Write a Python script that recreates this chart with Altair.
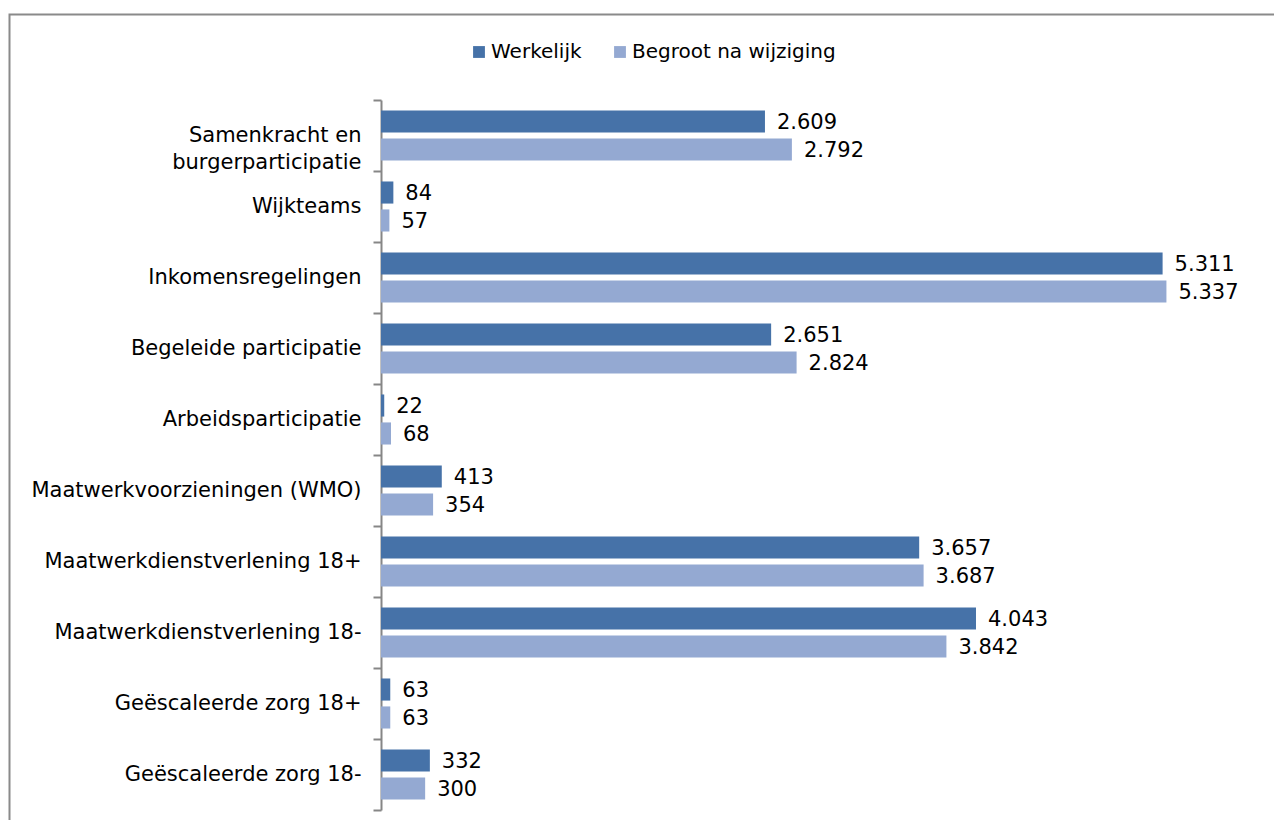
import altair as alt
import pandas as pd

categories = [
    "Samenkracht en burgerparticipatie",
    "Wijkteams",
    "Inkomensregelingen",
    "Begeleide participatie",
    "Arbeidsparticipatie",
    "Maatwerkvoorzieningen (WMO)",
    "Maatwerkdienstverlening 18+",
    "Maatwerkdienstverlening 18-",
    "Geëscaleerde zorg 18+",
    "Geëscaleerde zorg 18-",
]
werkelijk = [2609, 84, 5311, 2651, 22, 413, 3657, 4043, 63, 332]
begroot = [2792, 57, 5337, 2824, 68, 354, 3687, 3842, 63, 300]
series = ["Werkelijk", "Begroot na wijziging"]
colors = ["#4672a8", "#94a9d2"]

rows = []
for c, w, b in zip(categories, werkelijk, begroot):
    rows.append({"cat": c, "serie": series[0], "v": w})
    rows.append({"cat": c, "serie": series[1], "v": b})
df = pd.DataFrame(rows)

FONT = "DejaVu Sans"
FS = 21
W, H = 883, 710

y_enc = alt.Y(
    "cat:N",
    sort=categories,
    scale=alt.Scale(paddingInner=0, paddingOuter=0),
    axis=alt.Axis(
        title=None,
        domainColor="#868686",
        domainWidth=2,
        tickColor="#868686",
        tickWidth=2,
        tickSize=8,
        tickBand="extent",
        labelPadding=12,
        labelFont=FONT,
        labelFontSize=FS,
        labelColor="#000000",
        labelLineHeight=27,
        labelLimit=400,
        labelExpr="datum.value == 'Samenkracht en burgerparticipatie' ? ['Samenkracht en', 'burgerparticipatie'] : datum.value",
    ),
)
yoff = alt.YOffset(
    "serie:N",
    sort=series,
    scale=alt.Scale(paddingInner=0.21, paddingOuter=0.375),
)
x_enc = alt.X("v:Q", scale=alt.Scale(domain=[0, 6000]), axis=None)

bars = alt.Chart(df).mark_bar().encode(
    y=y_enc,
    yOffset=yoff,
    x=x_enc,
    color=alt.Color(
        "serie:N",
        sort=series,
        scale=alt.Scale(domain=series, range=colors),
        legend=alt.Legend(
            title=None,
            orient="none",
            direction="horizontal",
            legendX=88,
            legendY=-58,
            symbolType="square",
            symbolSize=140,
            symbolStrokeWidth=0,
            labelFont=FONT,
            labelFontSize=20,
            labelColor="#000000",
            labelOffset=2,
            labelLimit=400,
            columnPadding=28,
            padding=0,
        ),
    ),
)

labels = alt.Chart(df).transform_calculate(
    lab="replace(format(datum.v, ','), ',', '.')"
).mark_text(
    align="left", baseline="middle", dx=12, dy=1.5, font=FONT, fontSize=FS, color="#000000"
).encode(
    y=y_enc,
    yOffset=yoff,
    x=x_enc,
    text="lab:N",
)

frame = alt.Chart(pd.DataFrame({"a": [0]})).mark_rect(
    fill=None, stroke="#8a8a8a", strokeWidth=2
).encode(
    x=alt.value(-371.5),
    x2=alt.value(W + 40),
    y=alt.value(-85.5),
    y2=alt.value(H + 40),
)

chart = alt.layer(frame, bars, labels).properties(
    width=W,
    height=H,
    autosize=alt.AutoSizeParams(type="none"),
    padding={"left": 373, "top": 92, "right": 10, "bottom": 10},
).configure(background="white").configure_view(stroke=None)

chart.save("out.html", embed_options={"renderer": "svg", "actions": False})
